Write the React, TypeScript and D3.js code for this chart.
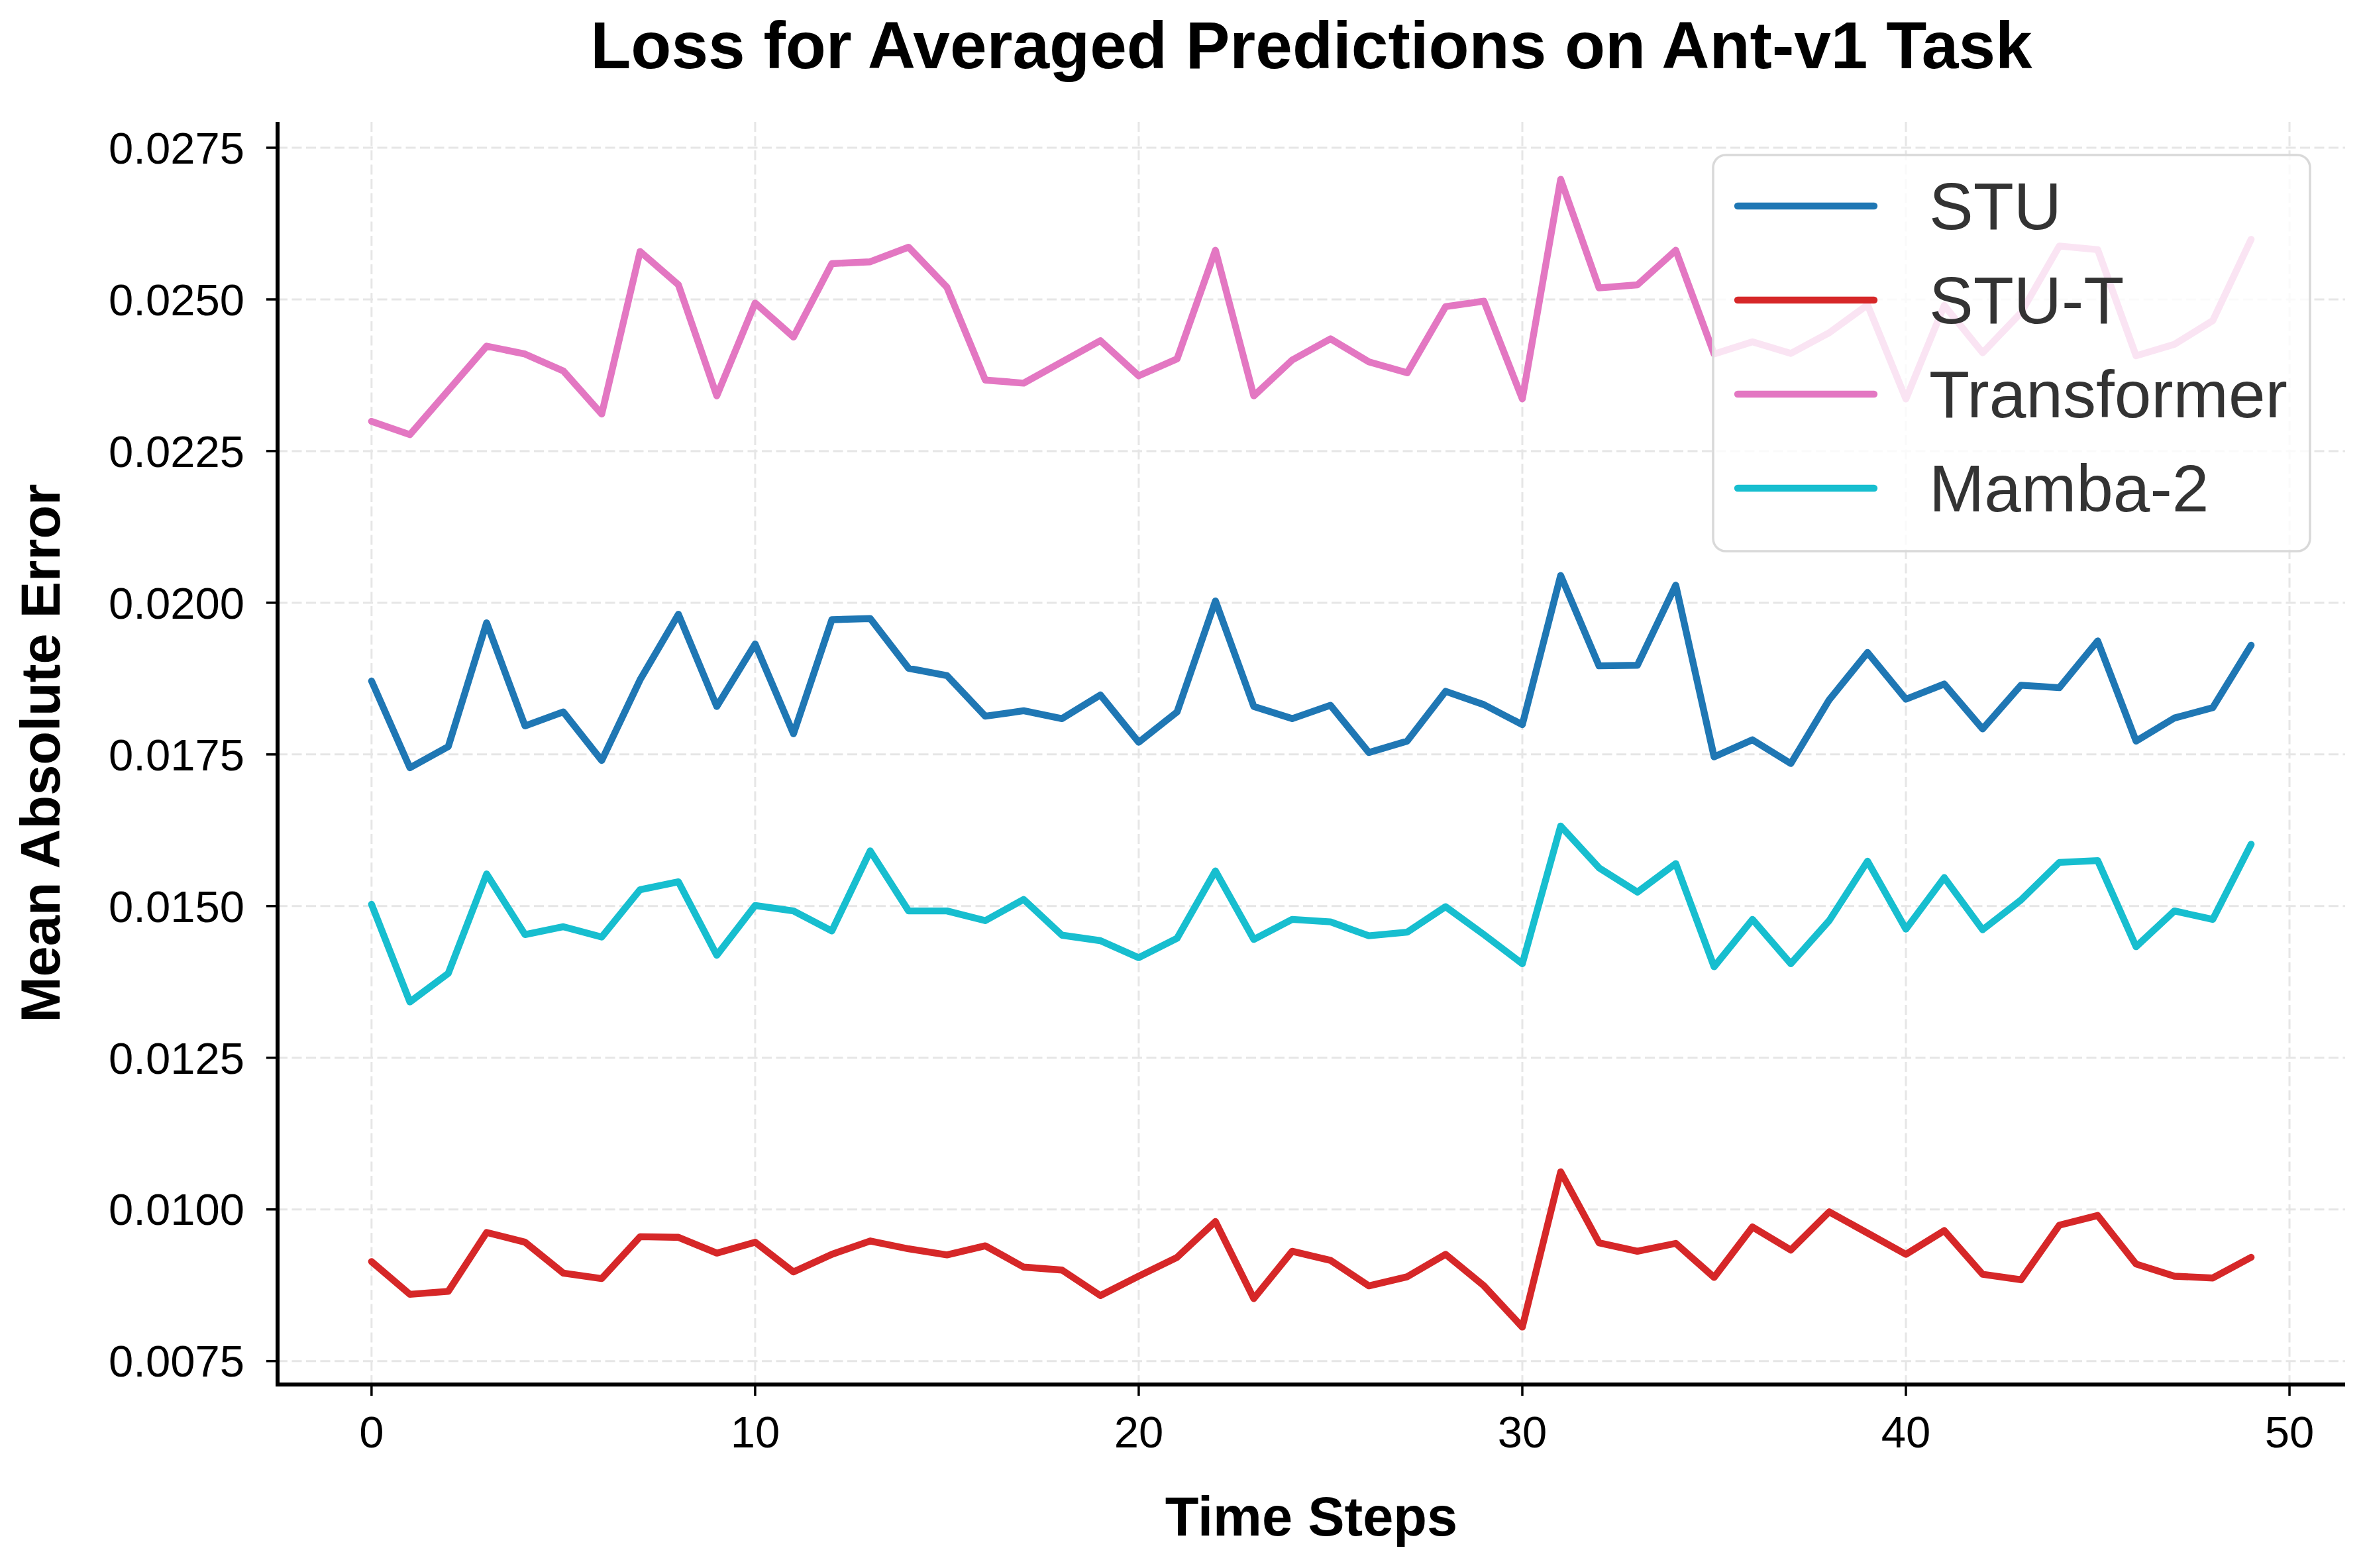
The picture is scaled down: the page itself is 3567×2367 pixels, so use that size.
import React from "react";
import * as d3 from "d3";

const steps = d3.range(50);
const seriesNames = ["STU", "STU-T", "Transformer", "Mamba-2"];
const seriesColors = ["#1f77b4", "#d62728", "#e377c2", "#17becf"];

const stu = [0.01871, 0.01728, 0.01763, 0.01967, 0.01797, 0.0182, 0.0174, 0.01873, 0.01981, 0.01829, 0.01932, 0.01784, 0.01972, 0.01974, 0.01892, 0.0188, 0.01813, 0.01822, 0.01809, 0.01848, 0.0177, 0.0182, 0.02003, 0.01829, 0.01809, 0.01831, 0.01753, 0.01772, 0.01854, 0.01832, 0.01799, 0.02045, 0.01896, 0.01897, 0.02029, 0.01746, 0.01774, 0.01735, 0.0184, 0.01918, 0.01841, 0.01866, 0.01792, 0.01864, 0.0186, 0.01937, 0.01772, 0.0181, 0.01827, 0.0193];
const stuT = [0.00914, 0.0086, 0.00865, 0.00962, 0.00946, 0.00895, 0.00886, 0.00955, 0.00954, 0.00928, 0.00946, 0.00897, 0.00926, 0.00948, 0.00935, 0.00925, 0.0094, 0.00905, 0.009, 0.00858, 0.0089, 0.00921, 0.0098, 0.00853, 0.00931, 0.00916, 0.00874, 0.00889, 0.00926, 0.00874, 0.00806, 0.01062, 0.00945, 0.00931, 0.00944, 0.00888, 0.00971, 0.00933, 0.00996, 0.00961, 0.00926, 0.00965, 0.00893, 0.00884, 0.00974, 0.0099, 0.0091, 0.0089, 0.00887, 0.00921];
const transformer = [0.02299, 0.02277, 0.0235, 0.02423, 0.0241, 0.02382, 0.02311, 0.02579, 0.02524, 0.02341, 0.02494, 0.02438, 0.02559, 0.02562, 0.02586, 0.0252, 0.02367, 0.02362, 0.02397, 0.02432, 0.02374, 0.02402, 0.02581, 0.02341, 0.024, 0.02435, 0.02397, 0.02379, 0.02488, 0.02497, 0.02336, 0.02698, 0.02519, 0.02524, 0.02581, 0.0241, 0.0243, 0.02411, 0.02445, 0.02491, 0.02336, 0.0249, 0.02412, 0.02478, 0.02588, 0.02582, 0.02407, 0.02426, 0.02465, 0.02599];
const mamba = [0.01503, 0.01342, 0.01389, 0.01553, 0.01453, 0.01466, 0.01449, 0.01527, 0.0154, 0.01419, 0.01501, 0.01492, 0.01459, 0.01591, 0.01492, 0.01492, 0.01476, 0.01511, 0.01452, 0.01443, 0.01415, 0.01447, 0.01558, 0.01445, 0.01478, 0.01474, 0.01451, 0.01457, 0.01499, 0.01453, 0.01405, 0.01632, 0.01563, 0.01523, 0.0157, 0.014, 0.01478, 0.01405, 0.01476, 0.01574, 0.01462, 0.01547, 0.01461, 0.0151, 0.01572, 0.01575, 0.01433, 0.01492, 0.01478, 0.01602];

const xTicks = [0, 10, 20, 30, 40, 50];
const yTicks = [0.0075, 0.01, 0.0125, 0.015, 0.0175, 0.02, 0.0225, 0.025, 0.0275];

const titleText = "Loss for Averaged Predictions on Ant-v1 Task";
const xLabel = "Time Steps";
const yLabel = "Mean Absolute Error";

const W = 3567;
const H = 2367;
const L = 419, R = 3540, T = 184, B = 2090;
const FONT = "'Liberation Sans', Arial, Helvetica, sans-serif";
const LW = 10.4;

export default function App() {
  const all = [stu, stuT, transformer, mamba];
  const flat = all.flat();
  const [mn, mx] = d3.extent(flat) as [number, number];
  const pad = (mx - mn) * 0.05;
  const xPad = (d3.max(steps)! - d3.min(steps)!) * 0.05;
  const x = d3.scaleLinear().domain([d3.min(steps)! - xPad, d3.max(steps)! + xPad]).range([L, R]);
  const y = d3.scaleLinear().domain([mn - pad, mx + pad]).range([B, T]);
  const line = d3.line<number>().x((_, i) => x(steps[i])).y((d) => y(d));

  const legX = 2586, legY = 234, legW = 901, legH = 598;
  const handleY0 = 311, handleDy = 142;

  return (
    <div style={{ position: "absolute", left: 0, top: 0 }}>
      <svg width={W} height={H} viewBox={`0 0 ${W} ${H}`} style={{ display: "block", background: "#fff" }}>
        <rect x={0} y={0} width={W} height={H} fill="#fff" />
        {/* grid */}
        <g stroke="#e6e6e6" strokeWidth={3} strokeDasharray="15 6.5" fill="none">
          {xTicks.map((t) => (
            <line key={"gx" + t} x1={x(t)} x2={x(t)} y1={T} y2={B} />
          ))}
          {yTicks.map((t) => (
            <line key={"gy" + t} x1={L} x2={R} y1={y(t)} y2={y(t)} />
          ))}
        </g>
        {/* lines */}
        {all.map((s, k) => (
          <path key={seriesNames[k]} d={line(s)!} fill="none" stroke={seriesColors[k]} strokeWidth={LW} strokeLinejoin="round" strokeLinecap="round" />
        ))}
        {/* spines */}
        <line x1={L} x2={L} y1={T} y2={B + 3} stroke="#000" strokeWidth={6} />
        <line x1={L - 3} x2={R} y1={B} y2={B} stroke="#000" strokeWidth={6} />
        {/* y ticks */}
        {yTicks.map((t) => (
          <g key={"yt" + t}>
            <line x1={L - 17} x2={L} y1={y(t)} y2={y(t)} stroke="#000" strokeWidth={3.5} />
            <text x={369} y={y(t)} dy="0.355em" textAnchor="end" fontFamily={FONT} fontSize={67} fill="#000">
              {t.toFixed(4)}
            </text>
          </g>
        ))}
        {/* x ticks */}
        {xTicks.map((t) => (
          <g key={"xt" + t}>
            <line x1={x(t)} x2={x(t)} y1={B} y2={B + 17} stroke="#000" strokeWidth={3.5} />
            <text x={x(t)} y={2185} textAnchor="middle" fontFamily={FONT} fontSize={67} fill="#000">
              {t}
            </text>
          </g>
        ))}
        {/* axis labels */}
        <text x={(L + R) / 2} y={2318} textAnchor="middle" fontFamily={FONT} fontSize={83} fontWeight="bold" fill="#000">
          {xLabel}
        </text>
        <text transform={`translate(90, ${(T + B) / 2}) rotate(-90)`} textAnchor="middle" fontFamily={FONT} fontSize={83} fontWeight="bold" fill="#000">
          {yLabel}
        </text>
        {/* title */}
        <text x={(L + R) / 2} y={103} textAnchor="middle" fontFamily={FONT} fontSize={100} fontWeight="bold" fill="#000">
          {titleText}
        </text>
        {/* legend */}
        <rect x={legX} y={legY} width={legW} height={legH} rx={19} ry={19} fill="#fff" fillOpacity={0.8} stroke="#d9d9d9" strokeWidth={3.5} />
        {seriesNames.map((n, k) => {
          const hy = handleY0 + handleDy * k;
          return (
            <g key={"leg" + n}>
              <line x1={2623} x2={2829} y1={hy} y2={hy} stroke={seriesColors[k]} strokeWidth={LW} strokeLinecap="round" />
              <text x={2912} y={hy + 35} fontFamily={FONT} fontSize={100} fill="#333">
                {n}
              </text>
            </g>
          );
        })}
      </svg>
    </div>
  );
}
